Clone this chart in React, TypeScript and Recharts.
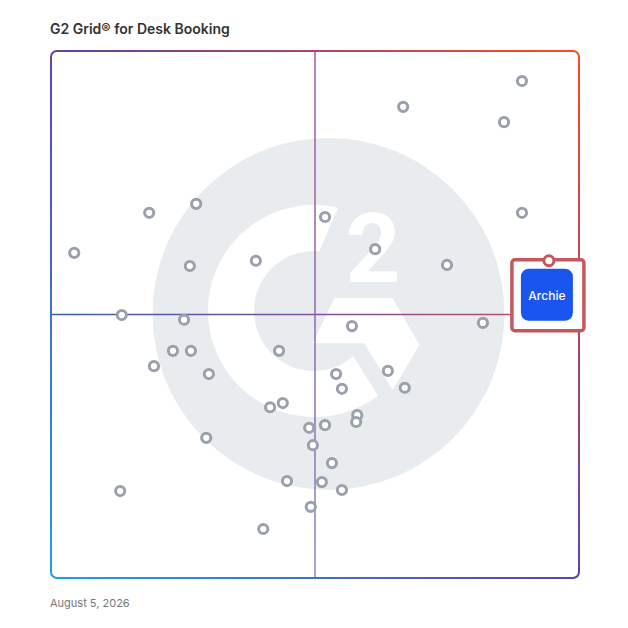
import React from 'react';
import { ScatterChart, Scatter, XAxis, YAxis, ReferenceArea } from 'recharts';

// Satisfaction (x) vs Market Presence (y), 0-100 scale
const vendorX = [89.2, 66.7, 85.8, 18.6, 27.5, 51.9, 89.2, 4.4, 61.4, 26.3, 38.8, 75.0, 13.4, 25.2, 57.0, 81.8, 23.1, 26.5, 43.2, 19.5, 29.9, 54.0, 63.8, 55.1, 67.0, 41.5, 43.9, 58.0, 57.8, 48.9, 51.9, 29.4, 49.6, 53.2, 13.1, 44.7, 51.3, 55.1, 49.2, 40.2];
const vendorY = [94.3, 89.4, 86.5, 69.3, 71.0, 68.5, 69.3, 61.7, 62.4, 59.2, 60.2, 59.4, 49.9, 49.0, 47.8, 48.4, 43.1, 43.1, 43.1, 40.2, 38.7, 38.7, 39.3, 35.9, 36.1, 32.4, 33.2, 30.9, 29.6, 28.5, 29.0, 26.6, 25.2, 21.8, 16.5, 18.4, 18.2, 16.7, 13.5, 9.3];
const highlightName = 'Archie';
const highlightX = [94.3];
const highlightY = [60.2];

const title = 'G2 Grid® for Desk Booking';
const dateLabel = 'August 5, 2026';

const vendors = vendorX.map((x, i) => ({ x, y: vendorY[i] }));
const highlight = highlightX.map((x, i) => ({ x, y: highlightY[i], name: highlightName }));

const FONT = 'Inter, "Noto Sans", sans-serif';

function GridBackground(props: any) {
  const { x, y, width, height } = props;
  const s = width / 528;
  const ccx = x + width * 0.5256;
  const ccy = y + height * 0.499;
  // C arc geometry (local px relative to circle centre, before scale)
  const c0x = -14.5, c0y = -3, ro = 106, ri = 60;
  const pt = (r: number, deg: number) => {
    const a = (deg * Math.PI) / 180;
    return [c0x + r * Math.cos(a), c0y + r * Math.sin(a)];
  };
  const o1 = pt(ro, -77), o2 = pt(ro, 53), i1 = pt(ri, 49), i2 = pt(ri, -85);
  const cPath = `M${o1[0]},${o1[1]} A${ro},${ro} 0 1 0 ${o2[0]},${o2[1]} L${i1[0]},${i1[1]} A${ri},${ri} 0 1 1 ${i2[0]},${i2[1]} Z`;
  const chevron = '5.8,-15.7 64.2,-15.7 90.8,31 64.2,76 35.8,29.3 -15.8,29.3';
  const midX = x + width / 2;
  const midY = y + height / 2;
  return (
    <g>
      <defs>
        <linearGradient id="frameGrad" gradientUnits="userSpaceOnUse" x1={x} y1={y + height} x2={x + width} y2={y}>
          <stop offset="0" stopColor="#239fdc" />
          <stop offset="0.5" stopColor="#5f41a8" />
          <stop offset="1" stopColor="#ff4a22" />
        </linearGradient>
        <linearGradient id="hGrad" gradientUnits="userSpaceOnUse" x1={x} y1={midY} x2={x + width} y2={midY}>
          <stop offset="0" stopColor="#3a5fb3" />
          <stop offset="0.5" stopColor="#7d4f9e" />
          <stop offset="1" stopColor="#c9505a" />
        </linearGradient>
        <linearGradient id="vGrad" gradientUnits="userSpaceOnUse" x1={midX} y1={y} x2={midX} y2={y + height}>
          <stop offset="0" stopColor="#a55a98" />
          <stop offset="0.5" stopColor="#8f68a8" />
          <stop offset="1" stopColor="#8a84cc" />
        </linearGradient>
      </defs>
      <g transform={`translate(${ccx},${ccy}) scale(${s})`}>
        <circle cx={0} cy={0} r={176} fill="#e9ecef" />
        <path d={cPath} fill="#ffffff" />
        <polygon points={chevron} fill="#ffffff" />
        <text x={44.5} y={-32} textAnchor="middle" fontFamily="Roboto, sans-serif" fontWeight={700} fontSize={96} fill="#ffffff">2</text>
      </g>
      <line x1={x} y1={midY} x2={x + width} y2={midY} stroke="url(#hGrad)" strokeWidth={1.5} />
      <line x1={midX} y1={y} x2={midX} y2={y + height} stroke="url(#vGrad)" strokeWidth={1.5} />
      <rect x={x} y={y} width={width} height={height} rx={6} ry={6} fill="none" stroke="url(#frameGrad)" strokeWidth={2} />
    </g>
  );
}

function VendorDot(props: any) {
  const { cx, cy } = props;
  return <circle cx={cx} cy={cy} r={4.6} fill="#ffffff" stroke="#9aa1ad" strokeWidth={3} />;
}

function HighlightDot(props: any) {
  const { cx, cy, payload } = props;
  return (
    <g>
      <rect x={cx - 37} y={cy - 1} width={72} height={71} rx={3} ry={3} fill="#ffffff" stroke="#c4575c" strokeWidth={3.5} />
      <rect x={cx - 28} y={cy + 8} width={52} height={52} rx={8} ry={8} fill="#1a55f0" />
      <text x={cx - 2} y={cy + 39} textAnchor="middle" fontFamily={FONT} fontSize={12} fontWeight={500} fill="#ffffff">
        {payload?.name}
      </text>
      <circle cx={cx} cy={cy} r={5} fill="#ffffff" stroke="#c4575c" strokeWidth={3} />
    </g>
  );
}

export default function App() {
  return (
    <div style={{ position: 'relative', width: 620, height: 620, fontFamily: FONT }}>
      <div style={{ position: 'absolute', left: 42, top: 12, fontSize: 14, lineHeight: '17px', fontWeight: 600, color: '#333333', whiteSpace: 'nowrap' }}>
        {title}
      </div>
      <ScatterChart width={620} height={620} margin={{ top: 43, right: 49, bottom: 50, left: 43 }}>
        <XAxis type="number" dataKey="x" domain={[0, 100]} hide />
        <YAxis type="number" dataKey="y" domain={[0, 100]} hide />
        <ReferenceArea x1={0} x2={100} y1={0} y2={100} shape={(p: any) => <GridBackground {...p} />} />
        <Scatter data={vendors} shape={(p: any) => <VendorDot {...p} />} isAnimationActive={false} />
        <Scatter data={highlight} shape={(p: any) => <HighlightDot {...p} />} isAnimationActive={false} />
      </ScatterChart>
      <div style={{ position: 'absolute', left: 42, top: 589, fontSize: 11, lineHeight: '13px', color: '#777777', whiteSpace: 'nowrap' }}>
        {dateLabel}
      </div>
    </div>
  );
}
